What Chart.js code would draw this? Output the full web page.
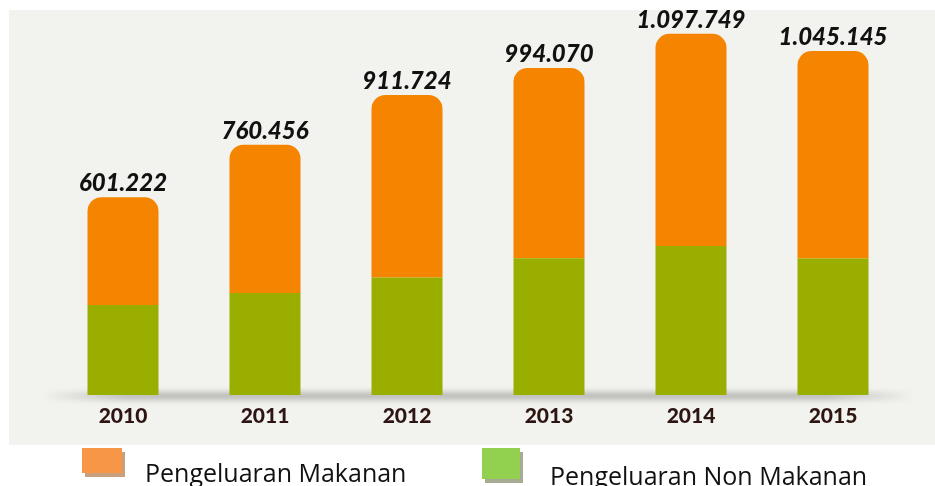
<!DOCTYPE html>
<html>
<head>
<meta charset="utf-8">
<script src="https://cdn.jsdelivr.net/npm/chart.js@4/dist/chart.umd.min.js"></script>
<style>
  body { margin: 0; background: #fff; }
  canvas { display: block; }
</style>
</head>
<body>
<canvas id="myChart" width="935" height="486"></canvas>
<script>
const years = ['2010', '2011', '2012', '2013', '2014', '2015'];
const totalLabels = ['601.222', '760.456', '911.724', '994.070', '1.097.749', '1.045.145'];
const nonMakanan = [273700, 310000, 356700, 415700, 453000, 414500];
const makanan = [327500, 450500, 555000, 578400, 644700, 630600];

// panel + baseline shadow
const backdrop = {
  id: 'backdrop',
  beforeDraw(chart) {
    const ctx = chart.ctx;
    ctx.save();
    ctx.fillStyle = '#ffffff';
    ctx.fillRect(0, 0, chart.width, chart.height);
    ctx.fillStyle = '#f2f2ee';
    ctx.fillRect(9, 10, chart.width - 9, 435);
    ctx.restore();
  },
  beforeDatasetsDraw(chart) {
    const ctx = chart.ctx;
    const a = chart.chartArea;
    const g = ctx.createLinearGradient(a.left - 10, 0, a.right + 10, 0);
    g.addColorStop(0, 'rgba(0,0,0,0)');
    g.addColorStop(0.1, 'rgba(0,0,0,0.3)');
    g.addColorStop(0.9, 'rgba(0,0,0,0.3)');
    g.addColorStop(1, 'rgba(0,0,0,0)');
    ctx.save();
    ctx.filter = 'blur(3px)';
    ctx.fillStyle = g;
    ctx.fillRect(a.left - 10, a.bottom - 2, a.right - a.left + 20, 6);
    ctx.restore();
  }
};

// totals on top of bars + legend
const extras = {
  id: 'extras',
  afterDatasetsDraw(chart) {
    const ctx = chart.ctx;
    const top = chart.getDatasetMeta(1).data;
    ctx.save();
    ctx.font = 'italic 900 24px Lato';
    ctx.fillStyle = '#111';
    ctx.textAlign = 'center';
    ctx.textBaseline = 'alphabetic';
    top.forEach((bar, i) => {
      ctx.fillText(totalLabels[i], bar.x, bar.y - 6);
    });

    // legend
    const items = [
      { ds: 1, x: 82, y: 448, w: 40, h: 25, shadow: '#c9a07c', tx: 145, ty: 482 },
      { ds: 0, x: 482, y: 448, w: 38, h: 31, shadow: '#a7ab93', tx: 550, ty: 485 }
    ];
    ctx.textAlign = 'left';
    ctx.font = '25px "Open Sans"';
    items.forEach(it => {
      const d = chart.data.datasets[it.ds];
      ctx.fillStyle = it.shadow;
      ctx.fillRect(it.x + 3, it.y + 4, it.w, it.h);
      ctx.fillStyle = d.legendColor;
      ctx.fillRect(it.x, it.y, it.w, it.h);
      ctx.fillStyle = '#111';
      ctx.fillText(d.label, it.tx, it.ty);
    });
    ctx.restore();
  }
};

const data = {
  labels: years,
  datasets: [{
    label: 'Pengeluaran Non Makanan',
    data: nonMakanan,
    backgroundColor: '#9aae00',
    legendColor: '#92d050',
    borderWidth: 0
  }, {
    label: 'Pengeluaran Makanan',
    data: makanan,
    backgroundColor: '#f58500',
    legendColor: '#f79646',
    borderWidth: 0,
    borderSkipped: false,
    borderRadius: { topLeft: 14, topRight: 14, bottomLeft: 0, bottomRight: 0 }
  }]
};

const config = {
  type: 'bar',
  data: data,
  options: {
    responsive: false,
    animation: false,
    layout: { padding: { left: 52, right: 31, top: 10, bottom: 41 } },
    datasets: { bar: { categoryPercentage: 1, barPercentage: 0.5 } },
    plugins: { legend: { display: false }, tooltip: { enabled: false } },
    scales: {
      x: {
        stacked: true,
        grid: { display: false, drawTicks: false },
        border: { display: false },
        ticks: { padding: 9, color: '#2d1612', font: { family: 'Lato', weight: '900', size: 21 } },
        afterFit(scale) { scale.height = 50; }
      },
      y: {
        stacked: true,
        display: false,
        min: 0,
        max: 1170000
      }
    }
  },
  plugins: [backdrop, extras]
};

const myChart = new Chart(document.getElementById('myChart'), config);
</script>
</body>
</html>
